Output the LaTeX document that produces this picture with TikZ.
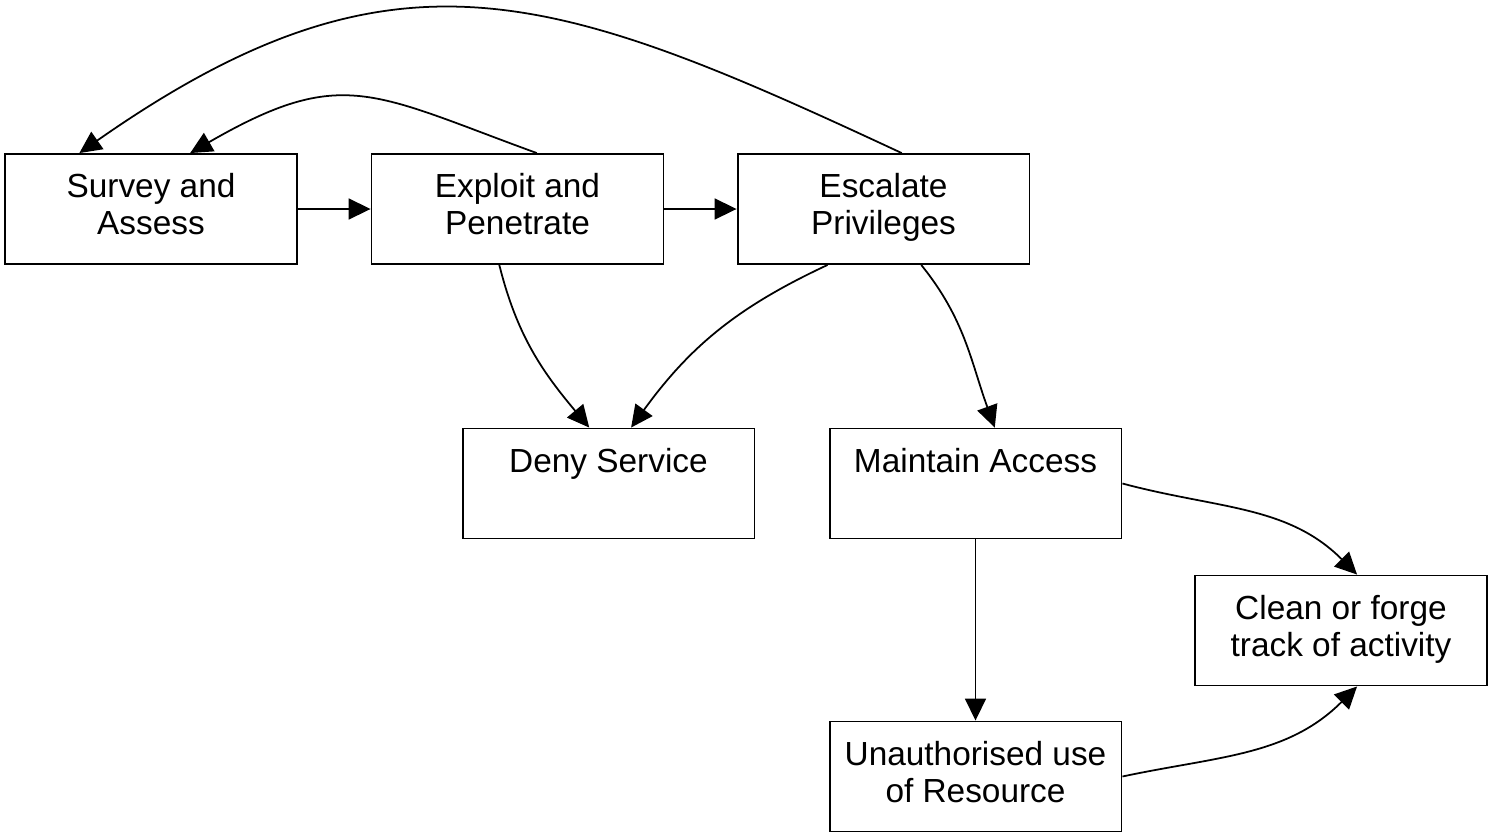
\documentclass[tikz,border=0pt]{standalone}
\usepackage{fontspec}
\setmainfont{Liberation Sans}
\usetikzlibrary{arrows.meta}
\tikzstyle{every node} = [font=\fontsize{19}{21}\selectfont]
\tikzstyle{stage} = [draw, rectangle, line width=1.1pt, minimum width=5.84cm, minimum height=2.2cm, inner sep=0pt, align=center, text depth=5.7pt]
\tikzstyle{flow} = [line width=1pt, -{Triangle[length=0.44cm, width=0.42cm]}]

\begin{document}
\begin{tikzpicture}[x=0.02cm, y=0.02cm]
        \useasboundingbox (0,0) rectangle (1491,-839);
        % top row
        \node[stage] (survey) at (151,-209) {Survey and\\Assess};
        \node[stage] (exploit) at (517.5,-209) {Exploit and\\Penetrate};
        \node[stage] (escalate) at (883.5,-209) {Escalate\\Privileges};
        % middle and bottom
        \node[stage] (deny) at (608.5,-483.5) {Deny Service\\ \mbox{}};
        \node[stage] (maintain) at (975.5,-483.5) {Maintain Access\\ \mbox{}};
        \node[stage] (clean) at (1341,-630.5) {Clean or forge\\track of activity};
        \node[stage] (unauth) at (975.5,-776.5) {Unauthorised use\\of Resource};

        \draw[flow] (survey) -- (exploit);
        \draw[flow] (exploit) -- (escalate);
        \draw[flow] (exploit.71) to[out=160, in=30, looseness=1.3] (survey.55);
        \draw[flow] (escalate.72) to[out=155, in=35, looseness=1.2] (survey.142);
        \draw[flow] (exploit.252) to[out=-76, in=130] (deny.109);
        \draw[flow] (escalate.225) to[out=205, in=54] (deny.68);
        \draw[flow] (escalate.304) to[out=-51, in=110] (maintain.71);
        \draw[flow] (maintain.east) to[out=-15, in=135] (clean.74);
        \draw[flow] (maintain) -- (unauth);
        \draw[flow] (unauth.east) to[out=12, in=225] (clean.286);
    \end{tikzpicture}
\end{document}
